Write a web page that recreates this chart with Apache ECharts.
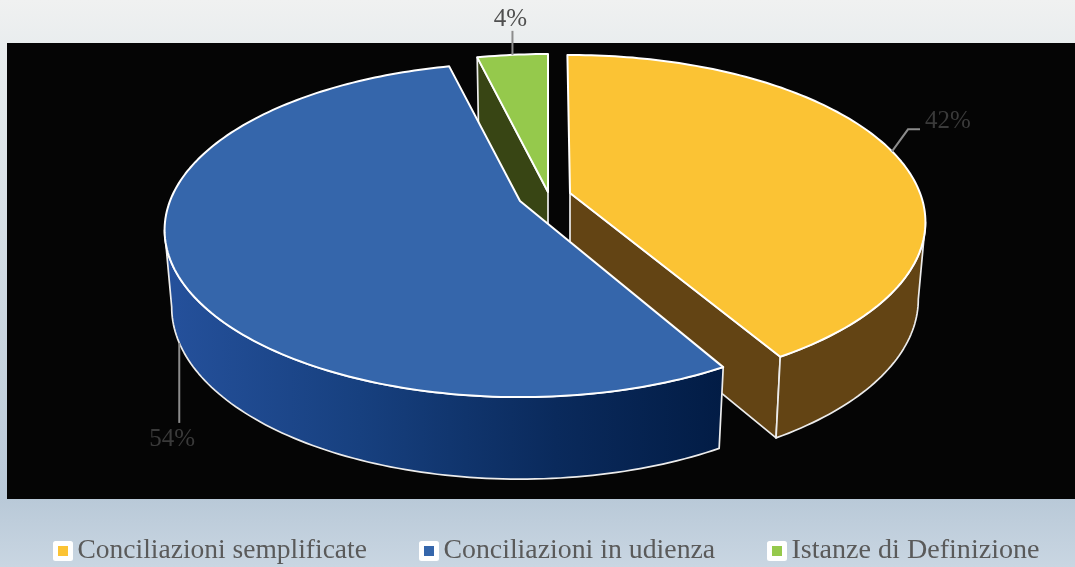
<!DOCTYPE html>
<html><head><meta charset="utf-8">
<style>html,body{margin:0;padding:0;width:1075px;height:567px;overflow:hidden}#c{width:1075px;height:567px}</style>
<script src="https://cdn.jsdelivr.net/npm/echarts@6/dist/echarts.min.js"></script>
</head><body><div id="c"></div>
<script>
const categories = ['Conciliazioni semplificate', 'Conciliazioni in udienza', 'Istanze di Definizione'];
const sliceValues = [41.8, 54.4, 3.8];
const sliceColors = ['#FBC334', '#3566AB', '#95C94C'];

// projection of the tilted pie
const R = 350, A = 162, K = 0.174;
const total = sliceValues.reduce((a, b) => a + b, 0);
const centers = [[570, 193], [520, 201], [548, 192]];
const deg = Math.PI / 180;
const startTurn = [-0.5 * deg, 0, 0];
const endTurn = [-1.2 * deg, 0, 0];
const starts = []; sliceValues.reduce((s, v, i) => (starts[i] = s, s + v), 0);
const toA = v => v / total * 2 * Math.PI;
function topPt(c, t) {
  const u = Math.sin(t), v = -Math.cos(t), f = 1 / (1 - K * v);
  return [c[0] + R * u * f, c[1] + A * v * f];
}
function bottomPt(c, t) {
  const p = topPt(c, t), v = Math.max(0, -Math.cos(t));
  return [c[0] + 0.98 * (p[0] - c[0]), p[1] + 76 + 6 * v];
}
function apexBottom(c) { return [c[0], c[1] + 76]; }
function arc(fn, c, a, b) {
  const n = Math.max(2, Math.ceil(Math.abs(b - a) / 0.02)), out = [];
  for (let i = 0; i <= n; i++) out.push(fn(c, a + (b - a) * i / n));
  return out;
}
const wallStroke = { stroke: '#ececec', lineWidth: 1.7, lineJoin: 'round' };
const poly = (points, style) => ({ type: 'polygon', shape: { points }, style });
const leaders = [
  { via: [[16, -22], [28, -22]], text: [33, -30], align: 'left', fill: '#3a3a3a', fromBottom: false },
  { via: [[0, 80]], text: [-7, 97], align: 'center', fill: '#3a3a3a', fromBottom: true },
  { via: [[0, -24]], text: [-2, -35], align: 'center', fill: '#4f4f4f', fromBottom: false }
];
const wallColors = [
  '#634414',
  { type: 'linear', x: 0, y: 0, x2: 1, y2: 0, colorStops: [
    { offset: 0, color: '#25519c' }, { offset: 0.35, color: '#17407f' }, { offset: 0.7, color: '#0a2a5c' }, { offset: 1, color: '#021c45' }] },
  '#384514'
];
function renderSlice(i) {
  const c = centers[i], a = toA(starts[i]) + startTurn[i], b = toA(starts[i] + sliceValues[i]) + endTurn[i];
  const kids = [];
  if (i === 0) {
    const e = topPt(c, b), eb = bottomPt(c, b);
    kids.push(poly([c, e, eb, apexBottom(c)], Object.assign({ fill: wallColors[0] }, wallStroke)));
    const s = Math.acos(-K);
    kids.push(poly(arc(topPt, c, s, b).concat(arc(bottomPt, c, b, s)), Object.assign({ fill: wallColors[0] }, wallStroke)));
  } else if (i === 1) {
    const s = 2 * Math.PI - Math.acos(-K);
    kids.push(poly(arc(topPt, c, a, s).concat(arc(bottomPt, c, s, a)), Object.assign({ fill: wallColors[1] }, wallStroke)));
  } else {
    const st = topPt(c, a), sb = bottomPt(c, a);
    kids.push(poly([st, c, apexBottom(c), sb], Object.assign({ fill: wallColors[2] }, wallStroke)));
  }
  kids.push(poly([c].concat(arc(topPt, c, a, b)), { fill: sliceColors[i], stroke: '#ffffff', lineWidth: 2, lineJoin: 'round' }));
  const l = leaders[i], m = (a + b) / 2, p = (l.fromBottom ? bottomPt : topPt)(c, m);
  kids.push({ type: 'polyline', shape: { points: [p].concat(l.via.map(d => [p[0] + d[0], p[1] + d[1]])) }, style: { stroke: '#8c8c8c', lineWidth: 2, fill: null } });
  kids.push({ type: 'text', style: { x: p[0] + l.text[0], y: p[1] + l.text[1], text: Math.round(sliceValues[i] / total * 100) + '%', fill: l.fill, font: '25px "Liberation Serif"', align: l.align, verticalAlign: 'middle' } });
  return { type: 'group', children: kids };
}
const zOrder = [2, 3, 1];
const legendLefts = [53, 419, 767];
const legendFonts = [27.5, 27.8, 28.1];
const chart = echarts.init(document.getElementById('c'), null, { renderer: 'canvas' });
chart.setOption({
  animation: false,
  backgroundColor: { type: 'linear', x: 0, y: 0, x2: 0, y2: 1, colorStops: [
    { offset: 0, color: '#f0f1f1' }, { offset: 0.08, color: '#e9edee' }, { offset: 0.88, color: '#b9c9d8' }, { offset: 1, color: '#c9d6e2' }] },
  graphic: [{ type: 'rect', z: 0, shape: { x: 7, y: 43, width: 1068, height: 456 }, style: { fill: '#050505' } }],
  legend: categories.map((name, i) => ({
    left: legendLefts[i], top: 537, data: [name], itemWidth: 15, itemHeight: 15,
    icon: 'rect', padding: 0, selectedMode: false,
    textStyle: { color: '#5a5a5a', fontFamily: 'Liberation Serif', fontSize: legendFonts[i], padding: [5, 0, 0, 2] },
    itemStyle: { borderColor: '#ffffff', borderWidth: 5, borderJoin: 'round' }
  })),
  series: categories.map((name, i) => ({
    type: 'custom', name, z: zOrder[i], coordinateSystem: 'none', silent: true,
    itemStyle: { color: sliceColors[i] },
    data: [sliceValues[i]],
    renderItem: () => renderSlice(i)
  }))
});
</script></body></html>
